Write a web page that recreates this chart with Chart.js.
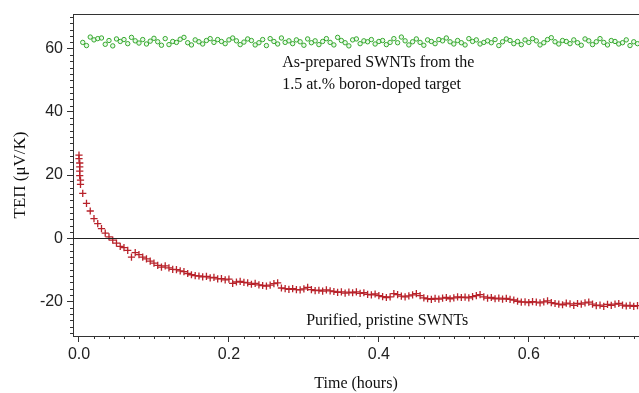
<!DOCTYPE html>
<html>
<head>
<meta charset="utf-8">
<script src="https://cdn.jsdelivr.net/npm/chart.js@4"></script>
<style>
  html, body { margin: 0; padding: 0; background: #fff; overflow: hidden; }
  canvas { display: block; }
</style>
</head>
<body>
<canvas id="chart" width="639" height="393"></canvas>
<script>
// Data (time in hours, TEP in uV/K)
const sampleTime = [
  0.005, 0.010, 0.015, 0.020, 0.025, 0.030, 0.035, 0.040, 0.045, 0.050,
  0.055, 0.060, 0.065, 0.070, 0.075, 0.080, 0.085, 0.090, 0.095, 0.100,
  0.105, 0.110, 0.115, 0.120, 0.125, 0.130, 0.135, 0.140, 0.145, 0.150,
  0.155, 0.160, 0.165, 0.170, 0.175, 0.180, 0.185, 0.190, 0.195, 0.200,
  0.205, 0.210, 0.215, 0.220, 0.225, 0.230, 0.235, 0.240, 0.245, 0.250,
  0.255, 0.260, 0.265, 0.270, 0.275, 0.280, 0.285, 0.290, 0.295, 0.300,
  0.305, 0.310, 0.315, 0.320, 0.325, 0.330, 0.335, 0.340, 0.345, 0.350,
  0.355, 0.360, 0.365, 0.370, 0.375, 0.380, 0.385, 0.390, 0.395, 0.400,
  0.405, 0.410, 0.415, 0.420, 0.425, 0.430, 0.435, 0.440, 0.445, 0.450,
  0.455, 0.460, 0.465, 0.470, 0.475, 0.480, 0.485, 0.490, 0.495, 0.500,
  0.505, 0.510, 0.515, 0.520, 0.525, 0.530, 0.535, 0.540, 0.545, 0.550,
  0.555, 0.560, 0.565, 0.570, 0.575, 0.580, 0.585, 0.590, 0.595, 0.600,
  0.605, 0.610, 0.615, 0.620, 0.625, 0.630, 0.635, 0.640, 0.645, 0.650,
  0.655, 0.660, 0.665, 0.670, 0.675, 0.680, 0.685, 0.690, 0.695, 0.700,
  0.705, 0.710, 0.715, 0.720, 0.725, 0.730, 0.735, 0.740, 0.745
];

// as-prepared, boron-doped target
const greenTep = [
  62.0, 61.0, 63.7, 62.8, 63.2, 63.4, 61.4, 62.6, 60.9, 63.1,
  62.3, 62.9, 61.6, 63.6, 62.5, 61.8, 62.9, 61.5, 62.4, 63.3,
  62.2, 61.1, 63.2, 61.3, 62.3, 62.0, 63.0, 63.6, 61.9, 61.2,
  62.8, 62.2, 61.5, 62.6, 63.2, 62.0, 62.9, 62.3, 61.6, 62.8,
  63.4, 62.5, 61.3, 62.1, 63.1, 62.6, 61.2, 61.9, 62.9, 61.0,
  63.2, 62.3, 61.5, 63.4, 62.0, 62.5, 61.6, 62.8, 62.2, 61.1,
  63.1, 61.9, 62.5, 61.3, 62.3, 63.2, 62.0, 61.2, 63.6, 62.6,
  61.9, 60.9, 62.8, 63.1, 61.6, 62.5, 62.2, 62.9, 61.5, 62.3,
  62.6, 61.3, 62.0, 63.2, 61.9, 63.7, 62.5, 61.2, 62.2, 63.1,
  62.0, 61.1, 62.8, 62.3, 61.6, 62.9, 62.5, 63.4, 62.2, 61.5,
  62.6, 61.9, 61.2, 63.2, 62.3, 62.8, 61.5, 62.0, 62.5, 61.9,
  62.9, 61.0, 62.2, 63.1, 62.6, 61.6, 62.3, 61.3, 62.8, 62.0,
  63.2, 62.5, 61.2, 61.9, 62.9, 63.5, 62.2, 61.5, 62.6, 62.3,
  61.6, 62.8, 61.9, 61.1, 63.1, 62.5, 61.3, 62.2, 63.2, 62.0,
  61.2, 62.6, 62.3, 61.5, 61.9, 62.8, 61.0, 62.2, 61.6
];

// purified, pristine: first minutes sampled densely
const redEarlyTime = [0.000, 0.000, 0.001, 0.001, 0.001, 0.001, 0.002, 0.002];
const redEarlyTep = [26.3, 25.2, 23.8, 22.6, 21.2, 19.8, 18.4, 17.0];
const redTep = [
  14.2, 11.0, 8.6, 6.2, 4.6, 3.0, 1.6, 0.4, -0.6, -1.6,
  -2.6, -3.0, -3.9, -6.0, -4.6, -5.2, -6.0, -6.6, -7.3, -7.9,
  -8.6, -9.2, -8.8, -9.4, -9.9, -10.0, -10.4, -10.6, -11.2, -11.6,
  -11.9, -12.0, -12.3, -12.1, -12.6, -12.4, -12.9, -12.8, -13.2, -13.0,
  -14.3, -13.9, -13.7, -14.0, -14.2, -14.6, -14.3, -14.8, -15.0, -15.2,
  -14.9, -14.4, -14.2, -15.8, -16.0, -16.2, -16.0, -16.3, -16.4, -16.1,
  -15.6, -16.3, -16.6, -16.5, -16.8, -16.4, -16.7, -16.9, -17.2, -17.0,
  -17.4, -17.1, -17.3, -17.0, -17.5, -17.3, -17.8, -18.0, -17.7, -18.2,
  -18.5, -18.8, -18.6, -17.6, -17.9, -18.4, -18.6, -18.3, -18.0, -17.6,
  -18.2, -18.9, -19.2, -19.4, -19.1, -19.3, -19.0, -18.8, -19.2, -18.9,
  -18.6, -18.8, -18.7, -18.9, -18.5, -18.2, -17.9, -18.6, -19.0, -18.8,
  -19.2, -19.0, -19.3, -19.1, -19.4, -19.6, -20.0, -20.3, -20.2, -20.4,
  -20.1, -20.3, -20.5, -20.2, -19.9, -20.4, -20.7, -20.9, -21.1, -20.6,
  -20.8, -21.3, -20.7, -20.9, -20.5, -20.3, -20.9, -21.4, -21.2, -21.6,
  -21.0, -21.3, -20.9, -20.7, -21.2, -21.5, -21.3, -21.6, -21.4
];

// Axis ticks
const xTickValues = [0, 0.2, 0.4, 0.6];
const xTickLabels = ['0.0', '0.2', '0.4', '0.6'];
const yTickValues = [-20, 0, 20, 40, 60];

const greenPoints = sampleTime.map((t, i) => ({ x: t, y: greenTep[i] }));
const redPoints = redEarlyTime.map((t, i) => ({ x: t, y: redEarlyTep[i] }))
  .concat(sampleTime.map((t, i) => ({ x: t, y: redTep[i] })));

const AXIS = '#333';
const serif = '"Liberation Serif", "Times New Roman", serif';
const sans = '"Liberation Sans", Arial, sans-serif';

// minor ticks, zero line, top frame and the text notes
const extras = {
  id: 'extras',
  afterDraw(chart) {
    const { ctx, chartArea: a, scales: { x, y } } = chart;
    ctx.save();
    ctx.strokeStyle = AXIS;
    ctx.lineWidth = 1;
    ctx.beginPath();
    for (let v = -30; v <= 70; v += 2) {
      if (v % 20 === 0) continue;
      const py = Math.round(y.getPixelForValue(v)) + 0.5;
      ctx.moveTo(a.left - 3, py); ctx.lineTo(a.left, py);
    }
    for (let k = 1; k <= 37; k++) {
      if (k % 10 === 0) continue;
      const px = Math.round(x.getPixelForValue(k * 0.02)) + 0.5;
      ctx.moveTo(px, a.bottom); ctx.lineTo(px, a.bottom + 3);
    }
    // top frame
    ctx.moveTo(a.left, a.top + 0.5); ctx.lineTo(a.right, a.top + 0.5);
    ctx.stroke();

    // zero line
    ctx.strokeStyle = '#222';
    ctx.beginPath();
    const z = Math.round(y.getPixelForValue(0)) + 0.5;
    ctx.moveTo(a.left, z); ctx.lineTo(a.right, z);
    ctx.stroke();

    ctx.fillStyle = '#111';
    ctx.font = '16px ' + serif;
    ctx.textAlign = 'left';
    ctx.textBaseline = 'middle';
    ctx.fillText('As-prepared SWNTs from the', x.getPixelForValue(0.271), y.getPixelForValue(55.7));
    ctx.fillText('1.5 at.% boron-doped target', x.getPixelForValue(0.271), y.getPixelForValue(48.7));
    ctx.fillText('Purified, pristine SWNTs', x.getPixelForValue(0.303), y.getPixelForValue(-26.2));
    ctx.restore();
  }
};

const config = {
  type: 'scatter',
  data: {
    datasets: [{
      label: 'As-prepared',
      data: greenPoints,
      pointStyle: 'circle',
      pointRadius: 2.2,
      borderWidth: 1,
      borderColor: '#36a82e',
      backgroundColor: 'rgba(200,240,200,0.4)'
    }, {
      label: 'Purified',
      data: redPoints,
      pointStyle: 'cross',
      pointRadius: 3.6,
      borderWidth: 1.3,
      borderColor: '#b8222a',
      backgroundColor: '#b8222a'
    }]
  },
  options: {
    responsive: false,
    animation: false,
    devicePixelRatio: 1,
    layout: { autoPadding: false, padding: { top: 14, right: 0, left: 0, bottom: 0 } },
    plugins: { legend: { display: false }, tooltip: { enabled: false } },
    scales: {
      x: {
        type: 'linear',
        min: -0.008,
        max: 0.747,
        afterBuildTicks: s => { s.ticks = xTickValues.map(v => ({ value: v })); },
        afterFit: s => { s.height = 57; s.paddingRight = 0; s.paddingLeft = 0; },
        ticks: {
          color: '#222',
          padding: 3,
          font: { family: sans, size: 16 },
          callback: (v) => xTickLabels[xTickValues.indexOf(v)] ?? ''
        },
        grid: { drawOnChartArea: false, tickLength: 6, tickColor: AXIS },
        border: { color: AXIS },
        title: {
          display: true,
          text: 'Time (hours)',
          color: '#111',
          font: { family: serif, size: 16 },
          padding: { top: 0, bottom: 0 }
        }
      },
      y: {
        min: -31,
        max: 71,
        afterBuildTicks: s => { s.ticks = yTickValues.map(v => ({ value: v })); },
        afterFit: s => { s.width = 73; s.paddingTop = 0; s.paddingBottom = 0; },
        ticks: {
          color: '#222',
          padding: 4,
          font: { family: sans, size: 16 }
        },
        grid: { drawOnChartArea: false, tickLength: 6, tickColor: AXIS },
        border: { color: AXIS },
        title: {
          display: true,
          text: 'TEΠ (μV/K)',
          color: '#111',
          font: { family: serif, size: 17 },
          padding: { top: 10, bottom: 0 }
        }
      }
    }
  },
  plugins: [extras]
};

const chart = new Chart(document.getElementById('chart'), config);
</script>
</body>
</html>
